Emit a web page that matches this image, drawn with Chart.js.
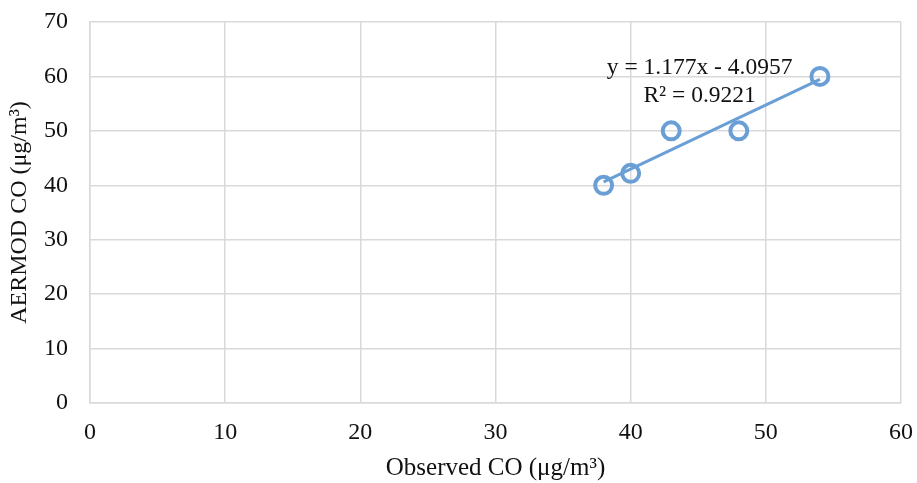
<!DOCTYPE html>
<html>
<head>
  <title>AERMOD vs Observed CO</title>
  <script src="https://cdn.jsdelivr.net/npm/chart.js"></script>
  <style>
    html, body { margin: 0; padding: 0; background: #ffffff; }
    #wrap { width: 917px; height: 483px; }
  </style>
</head>
<body>
  <div id="wrap"><canvas id="chart" width="917" height="483"></canvas></div>

  <script>
    // observed vs modelled CO
    const observedCO = [38, 40, 43, 48, 54];
    const aermodCO = [40, 42.2, 50, 50, 60];

    // linear trendline as printed on the chart
    const slope = 1.177;
    const intercept = -4.0957;
    const rSquared = 0.9221;
    const trendX = [38, 54];

    const xTicks = [0, 10, 20, 30, 40, 50, 60];
    const yTicks = [0, 10, 20, 30, 40, 50, 60, 70];

    const blue = '#6a9fd6';
    const gridColor = '#d9d9d9';
    const serif = '"Liberation Serif", "Times New Roman", serif';

    const points = observedCO.map((x, i) => ({ x: x, y: aermodCO[i] }));
    const trend = trendX.map(x => ({ x: x, y: slope * x + intercept }));

    const eqLabel = {
      id: 'eqLabel',
      afterDatasetsDraw(chart) {
        const ctx = chart.ctx;
        const xs = chart.scales.x, ys = chart.scales.y;
        const cx = xs.getPixelForValue(45.1);
        ctx.save();
        ctx.fillStyle = '#111';
        ctx.font = '23.5px ' + serif;
        ctx.textAlign = 'center';
        ctx.textBaseline = 'middle';
        ctx.fillText('y = ' + slope + 'x - ' + Math.abs(intercept), cx, ys.getPixelForValue(61.5));
        ctx.fillText('R² = ' + rSquared, cx, ys.getPixelForValue(56.5));
        ctx.restore();
      }
    };

    new Chart(document.getElementById('chart'), {
      type: 'scatter',
      data: {
        datasets: [
          {
            label: 'Trend',
            type: 'line',
            data: trend,
            borderColor: blue,
            borderWidth: 3,
            pointRadius: 0,
            fill: false,
            order: 2
          },
          {
            label: 'CO',
            data: points,
            pointStyle: 'circle',
            pointRadius: 8.5,
            pointBorderWidth: 4,
            borderColor: blue,
            backgroundColor: 'rgba(0,0,0,0)',
            order: 1
          }
        ]
      },
      options: {
        responsive: false,
        animation: false,
        layout: { padding: { top: 22, right: 16, left: 0, bottom: 0 } },
        plugins: {
          legend: { display: false },
          tooltip: { enabled: false }
        },
        scales: {
          x: {
            type: 'linear',
            min: 0,
            max: 60,
            afterBuildTicks: s => { s.ticks = xTicks.map(v => ({ value: v })); },
            afterFit: s => { s.height = 80; s.paddingLeft = 0; s.paddingRight = 0; },
            grid: { color: gridColor, lineWidth: 1.5, drawTicks: false },
            border: { color: gridColor, width: 1.5 },
            ticks: { color: '#111', font: { family: serif, size: 24 }, padding: 15 },
            title: {
              display: true,
              text: 'Observed CO (μg/m³)',
              color: '#111',
              font: { family: serif, size: 25 },
              padding: { top: 0, bottom: 0 }
            }
          },
          y: {
            type: 'linear',
            min: 0,
            max: 70,
            afterBuildTicks: s => { s.ticks = yTicks.map(v => ({ value: v })); },
            afterFit: s => { s.width = 90; s.paddingTop = 0; s.paddingBottom = 0; },
            grid: { color: gridColor, lineWidth: 1.5, drawTicks: false },
            border: { color: gridColor, width: 1.5 },
            ticks: { color: '#111', font: { family: serif, size: 24 }, padding: 22 },
            title: {
              display: true,
              text: 'AERMOD CO (μg/m³)',
              color: '#111',
              font: { family: serif, size: 24 },
              padding: { top: 5, bottom: 0 }
            }
          }
        }
      },
      plugins: [eqLabel]
    });
  </script>
</body>
</html>
